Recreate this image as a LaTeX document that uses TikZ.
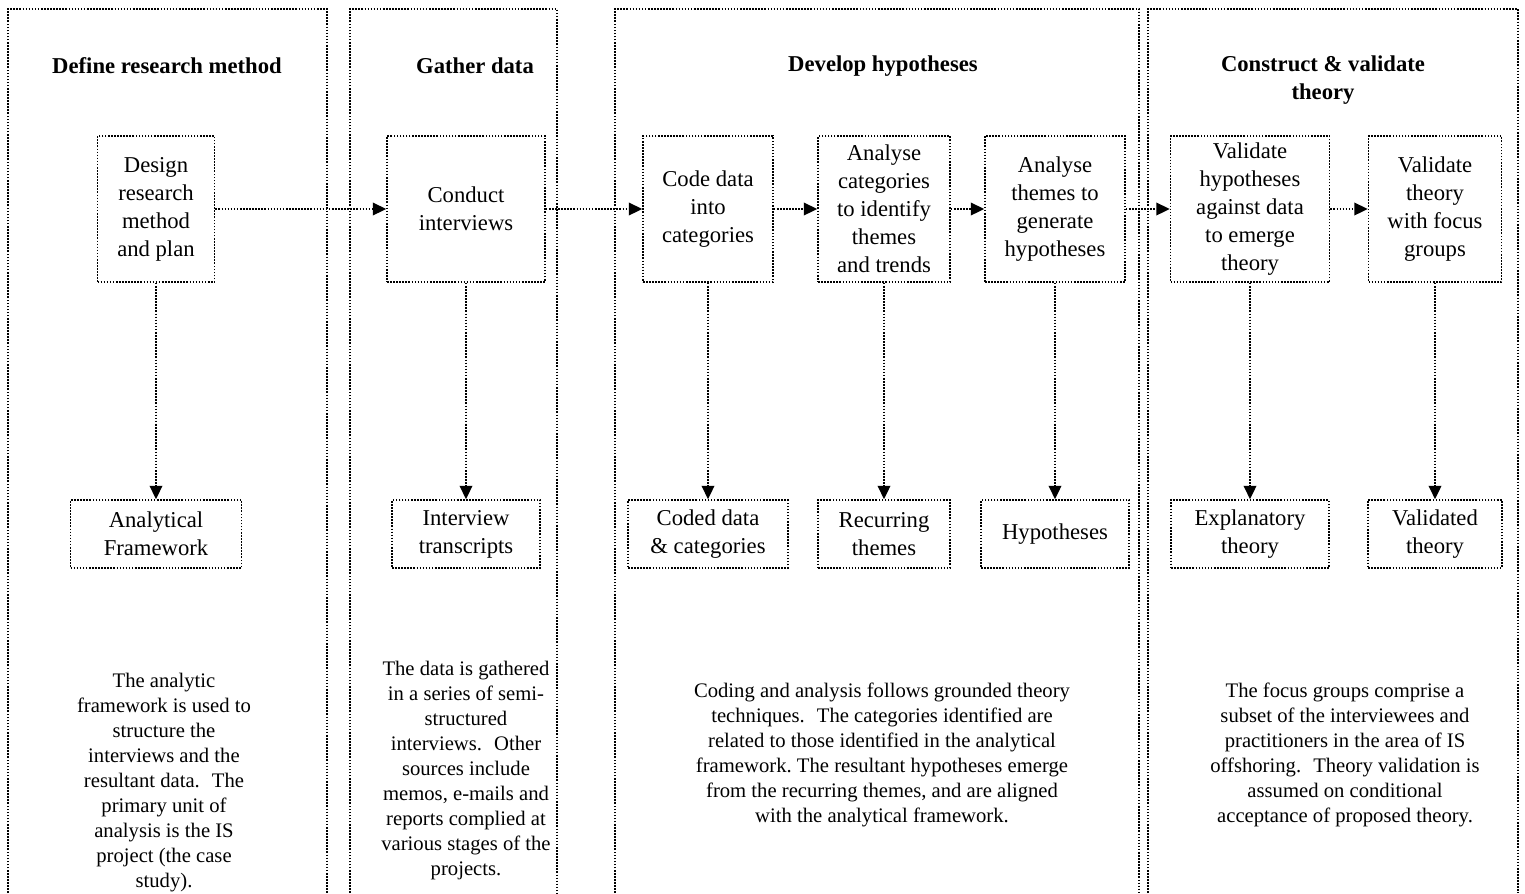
\documentclass[tikz,border=0pt]{standalone}
\usepackage{fontspec}
\setmainfont{Liberation Serif}
\usetikzlibrary{arrows.meta}
\newdimen\pxu \pxu=0.75pt
\begin{document}
\begin{tikzpicture}[x=0.75pt,y=-0.75pt,
  dots/.style={line width=1.3pt, dash pattern=on 1.2pt off 1.1pt},
  lane/.style={dots},
  procbox/.style={draw, dots, align=center, inner sep=2pt, font=\fontsize{17}{21}\selectfont},
  outbox/.style={procbox, minimum height=68\pxu},
  topbox/.style={procbox, minimum height=146\pxu},
  heading/.style={align=center, font=\fontsize{17}{21}\selectfont\bfseries},
  note/.style={align=center, font=\fontsize{15.5}{18.75}\selectfont},
  flow/.style={dots, -{Triangle[length=10pt,width=9.5pt]}}]
\useasboundingbox (0,0) rectangle (1525,893);

% lanes
\draw[lane] (8,893) -- (8,9) -- (327,9) -- (327,893);
\draw[lane] (350,893) -- (350,9) -- (557,9) -- (557,893);
\draw[lane] (615,893) -- (615,9) -- (1139,9) -- (1139,893);
\draw[lane] (1148,893) -- (1148,9) -- (1518,9) -- (1518,893);

% headings
\node[heading] (h1) at (167,66) {Define research method};
\node[heading] (h2) at (475,66) {Gather data};
\node[heading] (h3) at (883,66) {Develop hypotheses};
\node[heading] (h4) at (1323,80) {Construct \& validate\\theory};

% process boxes
\node[topbox, minimum width=117\pxu] (design) at (156,209) {Design\\research\\method\\and plan};
\node[topbox, minimum width=158\pxu] (conduct) at (466,209) {Conduct\\interviews};
\node[topbox, minimum width=130\pxu] (code) at (708,209) {Code data\\into\\categories};
\node[topbox, minimum width=132\pxu] (anacat) at (884,209) {Analyse\\categories\\to identify\\themes\\and trends};
\node[topbox, minimum width=140\pxu] (anathm) at (1055,209) {Analyse\\themes to\\generate\\hypotheses};
\node[topbox, minimum width=159\pxu] (valhyp) at (1250,209) {Validate\\hypotheses\\against data\\to emerge\\theory};
\node[topbox, minimum width=133\pxu] (valth) at (1435,209) {Validate\\theory\\with focus\\groups};

% output boxes
\node[outbox, minimum width=171\pxu] (af) at (156,534) {Analytical\\Framework};
\node[outbox, minimum width=148\pxu] (it) at (466,534) {Interview\\transcripts};
\node[outbox, minimum width=160\pxu] (cd) at (708,534) {Coded data\\\& categories};
\node[outbox, minimum width=132\pxu] (rt) at (884,534) {Recurring\\themes};
\node[outbox, minimum width=148\pxu] (hy) at (1055,534) {Hypotheses};
\node[outbox, minimum width=158\pxu] (et) at (1250,534) {Explanatory\\theory};
\node[outbox, minimum width=134\pxu] (vt) at (1435,534) {Validated\\theory};

% horizontal flow
\draw[flow] (design) -- (conduct);
\draw[flow] (conduct) -- (code);
\draw[flow] (code) -- (anacat);
\draw[flow] (anacat) -- (anathm);
\draw[flow] (anathm) -- (valhyp);
\draw[flow] (valhyp) -- (valth);

% vertical flow
\draw[flow] (design) -- (af);
\draw[flow] (conduct) -- (it);
\draw[flow] (code) -- (cd);
\draw[flow] (anacat) -- (rt);
\draw[flow] (anathm) -- (hy);
\draw[flow] (valhyp) -- (et);
\draw[flow] (valth) -- (vt);

% notes
\node[note] (n1) at (164,783) {The analytic\\framework is used to\\structure the\\interviews and the\\resultant data.~ The\\primary unit of\\analysis is the IS\\project (the case\\study).};
\node[note] (n2) at (466,771) {The data is gathered\\in a series of semi-\\structured\\interviews.~ Other\\sources include\\memos, e-mails and\\reports complied at\\various stages of the\\projects.};
\node[note] (n3) at (882,755) {Coding and analysis follows grounded theory\\techniques.~ The categories identified are\\related to those identified in the analytical\\framework.\ The resultant hypotheses emerge\\from the recurring themes, and are aligned\\with the analytical framework.};
\node[note] (n4) at (1345,755) {The focus groups comprise a\\subset of the interviewees and\\practitioners in the area of IS\\offshoring.~ Theory validation is\\assumed on conditional\\acceptance of proposed theory.};
\end{tikzpicture}
\end{document}
